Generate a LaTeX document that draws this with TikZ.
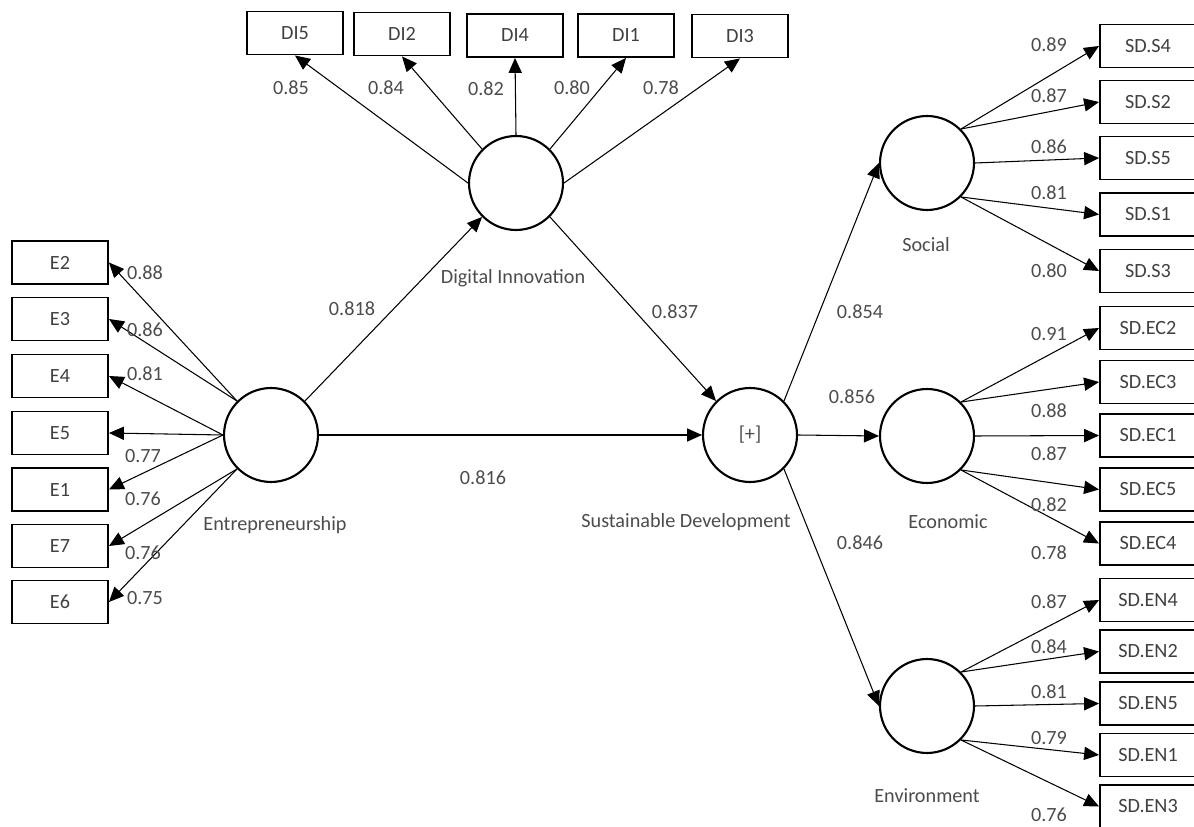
\documentclass[tikz,border=0pt]{standalone}
\usepackage{fontspec}
\setmainfont{Carlito}
\usetikzlibrary{arrows.meta}

\begin{document}
\begin{tikzpicture}[x=0.02cm,y=-0.02cm,
    latent/.style={circle,draw,line width=1.2pt,minimum size=1.88cm,inner sep=0pt,font=\fontsize{11.5}{13}\selectfont,text=black!70},
    ind/.style={rectangle,draw,line width=1.1pt,minimum width=1.92cm,minimum height=0.86cm,inner sep=0pt,font=\fontsize{11.5}{13}\selectfont,text=black!75},
    load/.style={-{Triangle[length=8.5pt,width=7.5pt]},line width=0.6pt},
    num/.style={font=\fontsize{11.5}{13}\selectfont,text=black!70,inner sep=0pt},
    lbl/.style={font=\fontsize{11.5}{13}\selectfont,text=black!70,inner sep=0pt}]
    \useasboundingbox (0,0) rectangle (1194,827);

    % latent variables
    \node[latent] (ent) at (271,435) {};
    \node[latent] (di) at (516,183) {};
    \node[latent] (sd) at (750,435) {[+]};
    \node[latent] (soc) at (927,163) {};
    \node[latent] (eco) at (927,436) {};
    \node[latent] (env) at (927,706) {};

    \node[lbl] (ent-t) at (275,525) {Entrepreneurship};
    \node[lbl] (di-t) at (513,278) {Digital Innovation};
    \node[lbl] (sd-t) at (686,522) {Sustainable Development};
    \node[lbl] (soc-t) at (926,245) {Social};
    \node[lbl] (eco-t) at (948,522) {Economic};
    \node[lbl] (env-t) at (927,796) {Environment};

    % structural paths
    \draw[load] (ent.north east) -- (di.south west);
    \draw[load] (di.south east) -- (sd.north west);
    \draw[load] (ent.east) -- (sd.west);
    \draw[load] (sd.north east) -- (soc.west);
    \draw[load] (sd.east) -- (eco.west);
    \draw[load] (sd.south east) -- (env.west);
    \node[num] (p-ent-di) at (352,309) {0.818};
    \node[num] (p-di-sd) at (675,312) {0.837};
    \node[num] (p-ent-sd) at (483,478) {0.816};
    \node[num] (p-sd-soc) at (860,312) {0.854};
    \node[num] (p-sd-eco) at (852,397) {0.856};
    \node[num] (p-sd-env) at (860,543) {0.846};

    % Entrepreneurship indicators
    \node[ind] (e2) at (60,262.5) {E2};
    \node[ind] (e3) at (60,319) {E3};
    \node[ind] (e4) at (60,376) {E4};
    \node[ind] (e5) at (60,433) {E5};
    \node[ind] (e1) at (60,489.5) {E1};
    \node[ind] (e7) at (60,546) {E7};
    \node[ind] (e6) at (60,602) {E6};
    \draw[load] (ent.north west) -- (e2.east);
    \draw[load] (ent.north west) -- (e3.east);
    \draw[load] (ent.west) -- (e4.east);
    \draw[load] (ent.west) -- (e5.east);
    \draw[load] (ent.west) -- (e1.east);
    \draw[load] (ent.south west) -- (e7.east);
    \draw[load] (ent.south west) -- (e6.east);
    \node[num] (l-e2) at (145,273) {0.88};
    \node[num] (l-e3) at (145,330) {0.86};
    \node[num] (l-e4) at (145,374) {0.81};
    \node[num] (l-e5) at (143,456) {0.77};
    \node[num] (l-e1) at (143,499) {0.76};
    \node[num] (l-e7) at (143,553) {0.76};
    \node[num] (l-e6) at (145,598) {0.75};

    % Digital Innovation indicators
    \node[ind] (di5) at (295,33) {DI5};
    \node[ind] (di2) at (402,34) {DI2};
    \node[ind] (di4) at (515,35.5) {DI4};
    \node[ind] (di1) at (626,35.5) {DI1};
    \node[ind] (di3) at (740,36) {DI3};
    \draw[load] (di.west) -- (di5.south);
    \draw[load] (di.north west) -- (di2.south);
    \draw[load] (di.north) -- (di4.south);
    \draw[load] (di.north east) -- (di1.south);
    \draw[load] (di.east) -- (di3.south);
    \node[num] (l-di5) at (291,88) {0.85};
    \node[num] (l-di2) at (386,88) {0.84};
    \node[num] (l-di4) at (486,89) {0.82};
    \node[num] (l-di1) at (572,88) {0.80};
    \node[num] (l-di3) at (661,88) {0.78};

    % Social indicators
    \node[ind] (s4) at (1148,46) {SD.S4};
    \node[ind] (s2) at (1148,102) {SD.S2};
    \node[ind] (s5) at (1148,158) {SD.S5};
    \node[ind] (s1) at (1148,214.5) {SD.S1};
    \node[ind] (s3) at (1148,271) {SD.S3};
    \draw[load] (soc.north east) -- (s4.west);
    \draw[load] (soc.north east) -- (s2.west);
    \draw[load] (soc.east) -- (s5.west);
    \draw[load] (soc.south east) -- (s1.west);
    \draw[load] (soc.south east) -- (s3.west);
    \node[num] (l-s4) at (1049,45) {0.89};
    \node[num] (l-s2) at (1049,96) {0.87};
    \node[num] (l-s5) at (1049,147) {0.86};
    \node[num] (l-s1) at (1049,193) {0.81};
    \node[num] (l-s3) at (1049,271) {0.80};

    % Economic indicators
    \node[ind] (ec2) at (1148,328) {SD.EC2};
    \node[ind] (ec3) at (1148,382) {SD.EC3};
    \node[ind] (ec1) at (1148,435.5) {SD.EC1};
    \node[ind] (ec5) at (1148,489.5) {SD.EC5};
    \node[ind] (ec4) at (1148,543.5) {SD.EC4};
    \draw[load] (eco.north east) -- (ec2.west);
    \draw[load] (eco.north east) -- (ec3.west);
    \draw[load] (eco.east) -- (ec1.west);
    \draw[load] (eco.south east) -- (ec5.west);
    \draw[load] (eco.south east) -- (ec4.west);
    \node[num] (l-ec2) at (1049,334) {0.91};
    \node[num] (l-ec3) at (1049,411) {0.88};
    \node[num] (l-ec1) at (1049,454) {0.87};
    \node[num] (l-ec5) at (1049,505) {0.82};
    \node[num] (l-ec4) at (1049,553) {0.78};

    % Environment indicators
    \node[ind] (en4) at (1148,600) {SD.EN4};
    \node[ind] (en2) at (1148,651.5) {SD.EN2};
    \node[ind] (en5) at (1148,703.5) {SD.EN5};
    \node[ind] (en1) at (1148,755) {SD.EN1};
    \node[ind] (en3) at (1148,806.5) {SD.EN3};
    \draw[load] (env.north east) -- (en4.west);
    \draw[load] (env.north east) -- (en2.west);
    \draw[load] (env.east) -- (en5.west);
    \draw[load] (env.south east) -- (en1.west);
    \draw[load] (env.south east) -- (en3.west);
    \node[num] (l-en4) at (1049,602) {0.87};
    \node[num] (l-en2) at (1049,647) {0.84};
    \node[num] (l-en5) at (1049,692) {0.81};
    \node[num] (l-en1) at (1049,738) {0.79};
    \node[num] (l-en3) at (1049,815) {0.76};
\end{tikzpicture}
\end{document}
